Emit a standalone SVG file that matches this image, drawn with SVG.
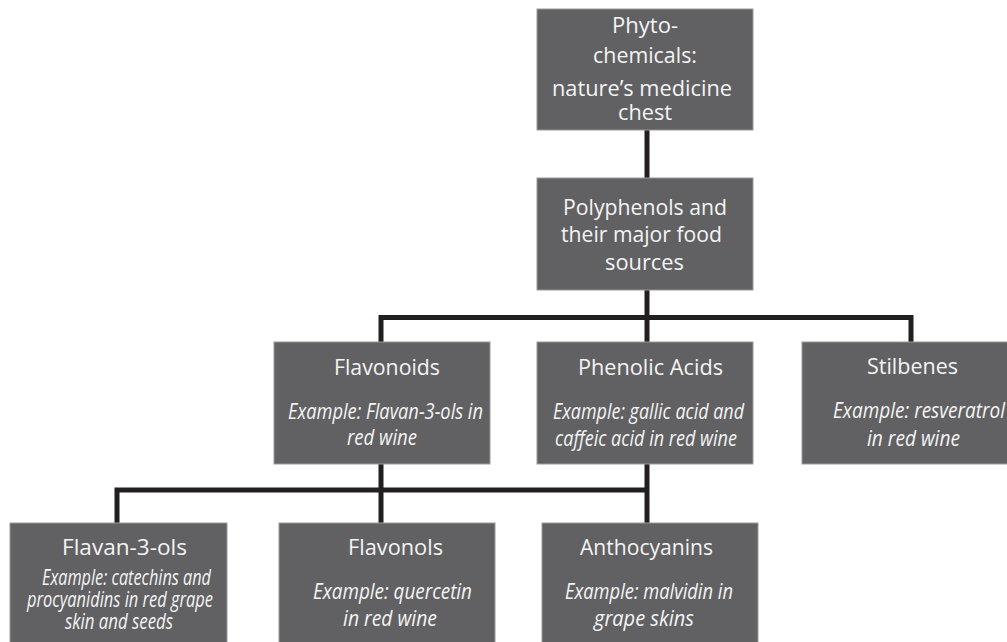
<svg xmlns="http://www.w3.org/2000/svg" width="1007" height="642" viewBox="0 0 1007 642">
<style>
.box{fill:#616163;stroke:#9a9a9c;stroke-width:1}
.conn{fill:none;stroke:#231f20;stroke-width:5;stroke-linejoin:miter}
.h{font-family:"Open Sans","Liberation Sans",sans-serif;font-size:22px;fill:#f4f4f4;font-weight:400}
.e{font-family:"Open Sans","Liberation Sans",sans-serif;font-size:21px;fill:#f4f4f4;font-style:italic}
</style>
<rect width="1007" height="642" fill="#ffffff"/>
<g id="connectors">
<path class="conn" d="M647,130 V178"/>
<path class="conn" d="M647,290 V342"/>
<path class="conn" d="M381,342 V317.5 H911 V342"/>
<path class="conn" d="M381,464 V523"/>
<path class="conn" d="M647,464 V523"/>
<path class="conn" d="M117,523 V490 H647"/>
</g>
<g id="phytochemicals">
<rect class="box" x="537" y="9" width="216" height="121"/>
<text class="h" x="612" y="33" textLength="66" lengthAdjust="spacingAndGlyphs">Phyto-</text>
<text class="h" x="593" y="63" textLength="104" lengthAdjust="spacingAndGlyphs">chemicals:</text>
<text class="h" x="552" y="96" textLength="180" lengthAdjust="spacingAndGlyphs">nature’s medicine</text>
<text class="h" x="618" y="120" textLength="54" lengthAdjust="spacingAndGlyphs">chest</text>
</g>
<g id="polyphenols">
<rect class="box" x="537" y="178" width="216" height="112"/>
<text class="h" x="563" y="215" textLength="164" lengthAdjust="spacingAndGlyphs">Polyphenols and</text>
<text class="h" x="561" y="242" textLength="161" lengthAdjust="spacingAndGlyphs">their major food</text>
<text class="h" x="605" y="270" textLength="79" lengthAdjust="spacingAndGlyphs">sources</text>
</g>
<g id="flavonoids">
<rect class="box" x="274" y="342" width="216" height="122"/>
<text class="h" x="334" y="375" textLength="106" lengthAdjust="spacingAndGlyphs">Flavonoids</text>
<text class="e" x="288" y="419" textLength="195" lengthAdjust="spacingAndGlyphs">Example: Flavan-3-ols in</text>
<text class="e" x="347" y="445" textLength="70" lengthAdjust="spacingAndGlyphs">red wine</text>
</g>
<g id="phenolic-acids">
<rect class="box" x="537" y="342" width="216" height="122"/>
<text class="h" x="578" y="375" textLength="145" lengthAdjust="spacingAndGlyphs">Phenolic Acids</text>
<text class="e" x="553" y="419" textLength="191" lengthAdjust="spacingAndGlyphs">Example: gallic acid and</text>
<text class="e" x="555" y="446" textLength="182" lengthAdjust="spacingAndGlyphs">caffeic acid in red wine</text>
</g>
<g id="stilbenes">
<rect class="box" x="802" y="342" width="216" height="122"/>
<text class="h" x="867" y="374" textLength="91" lengthAdjust="spacingAndGlyphs">Stilbenes</text>
<text class="e" x="833" y="418" textLength="172" lengthAdjust="spacingAndGlyphs">Example: resveratrol</text>
<text class="e" x="867" y="446" textLength="93" lengthAdjust="spacingAndGlyphs">in red wine</text>
</g>
<g id="flavan-3-ols">
<rect class="box" x="10" y="523" width="217" height="130"/>
<text class="h" x="62" y="555" textLength="125" lengthAdjust="spacingAndGlyphs">Flavan-3-ols</text>
<text class="e" x="42" y="585" textLength="169" lengthAdjust="spacingAndGlyphs">Example: catechins and</text>
<text class="e" x="27" y="607" textLength="186" lengthAdjust="spacingAndGlyphs">procyanidins in red grape</text>
<text class="e" x="65" y="629" textLength="108" lengthAdjust="spacingAndGlyphs">skin and seeds</text>
</g>
<g id="flavonols">
<rect class="box" x="279" y="523" width="216" height="130"/>
<text class="h" x="348" y="555" textLength="95" lengthAdjust="spacingAndGlyphs">Flavonols</text>
<text class="e" x="313" y="599" textLength="159" lengthAdjust="spacingAndGlyphs">Example: quercetin</text>
<text class="e" x="343" y="626" textLength="94" lengthAdjust="spacingAndGlyphs">in red wine</text>
</g>
<g id="anthocyanins">
<rect class="box" x="542" y="523" width="216" height="130"/>
<text class="h" x="580" y="555" textLength="133" lengthAdjust="spacingAndGlyphs">Anthocyanins</text>
<text class="e" x="565" y="599" textLength="168" lengthAdjust="spacingAndGlyphs">Example: malvidin in</text>
<text class="e" x="594" y="626" textLength="100" lengthAdjust="spacingAndGlyphs">grape skins</text>
</g>
</svg>
